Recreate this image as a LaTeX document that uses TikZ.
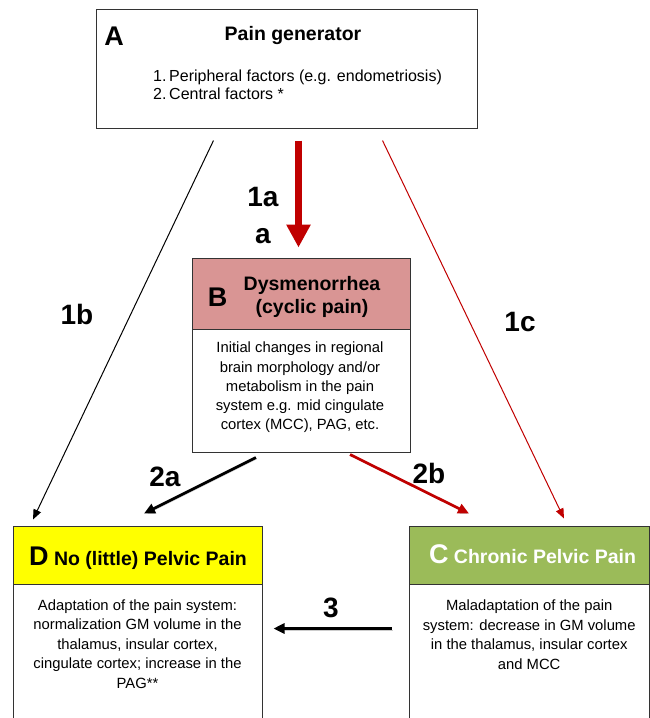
\documentclass[tikz,border=0pt]{standalone}
\usepackage{fontspec}
\setmainfont{Liberation Sans}
\usepackage{tikz}
\usetikzlibrary{arrows.meta}

\definecolor{painred}{HTML}{C00000}
\definecolor{dysred}{HTML}{D99594}
\definecolor{painyellow}{HTML}{FFFF00}
\definecolor{chrgreen}{HTML}{9BBB59}
\definecolor{boxline}{HTML}{333333}

\begin{document}
\begin{tikzpicture}[x=1pt,y=-1pt]
		\path[use as bounding box,clip] (0,0) rectangle (650,718);

		% boxes
		\begin{scope}[every node/.style={rectangle,draw=boxline,line width=1pt,inner sep=0pt}]
			\node[minimum width=381,minimum height=119] (A) at (286.5,68.5) {};
			\node[fill=dysred,minimum width=218,minimum height=71] (Bhead) at (301,293.5) {};
			\node[minimum width=218,minimum height=123] (Bbody) at (301,390.5) {};
			\node[fill=painyellow,minimum width=249,minimum height=58] (Dhead) at (137.5,555) {};
			\node[minimum width=249,minimum height=160] (Dbody) at (137.5,664) {};
			\node[fill=chrgreen,minimum width=240.5,minimum height=58] (Chead) at (529.25,555) {};
			\node[minimum width=240.5,minimum height=160] (Cbody) at (529.25,664) {};
		\end{scope}

		% texts
		\begin{scope}[every node/.style={inner sep=0pt,align=center,font=\fontsize{14.8}{19.2}\selectfont}]
			\node[font=\fontsize{27}{27}\selectfont\bfseries] (Aletter) at (114,36) {A};
			\node[anchor=base,font=\fontsize{19.5}{23}\selectfont\bfseries] (Atitle) at (293,40) {Pain generator};
			\node[anchor=west,align=left,font=\fontsize{16}{18.3}\selectfont] (Alist) at (153,85)
				{1.\,Peripheral factors (e.g. endometriosis)\\2.\,Central factors *};
			\node[font=\fontsize{27}{27}\selectfont\bfseries] (Bletter) at (217.5,297.5) {B};
			\node[font=\fontsize{19.5}{23}\selectfont\bfseries] (Btitle) at (312,297) {Dysmenorrhea\\(cyclic pain)};
			\node (Btext) at (300,387.5) {Initial changes in regional\\brain morphology and/or\\metabolism in the pain\\system e.g. mid cingulate\\cortex (MCC), PAG, etc.};
			\node[anchor=base,font=\fontsize{19.5}{23}\selectfont\bfseries] (Dtitle) at (138,565)
				{{\fontsize{27}{27}\selectfont D} No (little) Pelvic Pain};
			\node[font=\fontsize{14.8}{19.6}\selectfont] (Dtext) at (137.5,644.1) {Adaptation of the pain system:\\normalization GM volume in the\\thalamus, insular cortex,\\cingulate cortex; increase in the\\PAG**};
			\node[anchor=base,text=white,font=\fontsize{19.5}{23}\selectfont\bfseries] (Ctitle) at (532.5,563.3)
				{{\fontsize{27}{27}\selectfont C} Chronic Pelvic Pain};
			\node[font=\fontsize{14.8}{19.6}\selectfont] (Ctext) at (529.2,634.6) {Maladaptation of the pain\\system: decrease in GM volume\\in the thalamus, insular cortex\\and MCC};
		\end{scope}

		% arrow labels
		\begin{scope}[every node/.style={inner sep=0pt,font=\fontsize{28}{28}\selectfont\bfseries}]
			\node (l1a) at (263,197) {1a};
			\node (la) at (263,236) {a};
			\node (l1b) at (77,314) {1b};
			\node (l1c) at (520,322) {1c};
			\node (l2a) at (165,477) {2a};
			\node (l2b) at (429,473) {2b};
			\node (l3) at (331,608) {3};
		\end{scope}

		% thin arrows
		\begin{scope}[>={Triangle[length=10pt,width=8pt]},
		              every edge/.style={draw=black,line width=1pt}]
			\path ([xshift=-73pt,yshift=-12pt]A.south) edge[->] ([xshift=-104.5pt,yshift=6pt]Dhead.north);
			\path ([xshift=96pt,yshift=-12pt]A.south) edge[->,draw=painred] ([xshift=34.75pt,yshift=7pt]Chead.north);
		\end{scope}

		% thick arrows
		\begin{scope}[>={Triangle[length=11pt,width=10pt]},
		              every edge/.style={draw=black,line width=2.7pt,
		                preaction={draw=black!20,transform canvas={shift={(1pt,-1.5pt)}}}}]
			\path ([xshift=-45pt,yshift=-5pt]Bbody.south) edge[->] ([xshift=6.5pt,yshift=12pt]Dhead.north);
			\path ([xshift=49pt,yshift=-2pt]Bbody.south) edge[->,draw=painred] ([xshift=-60.25pt,yshift=12pt]Chead.north);
			\path ([xshift=-17pt,yshift=-44pt]Chead.south west) edge[->] ([xshift=11pt,yshift=-44pt]Dhead.south east);
		\end{scope}

		\begin{scope}[>={Triangle[length=23pt,width=23pt]},
		              every edge/.style={draw=painred,line width=7.5pt}]
			\path ([xshift=12pt,yshift=-12pt]A.south) edge[->] ([xshift=-2.5pt,yshift=10pt]Bhead.north);
		\end{scope}
\end{tikzpicture}
\end{document}
